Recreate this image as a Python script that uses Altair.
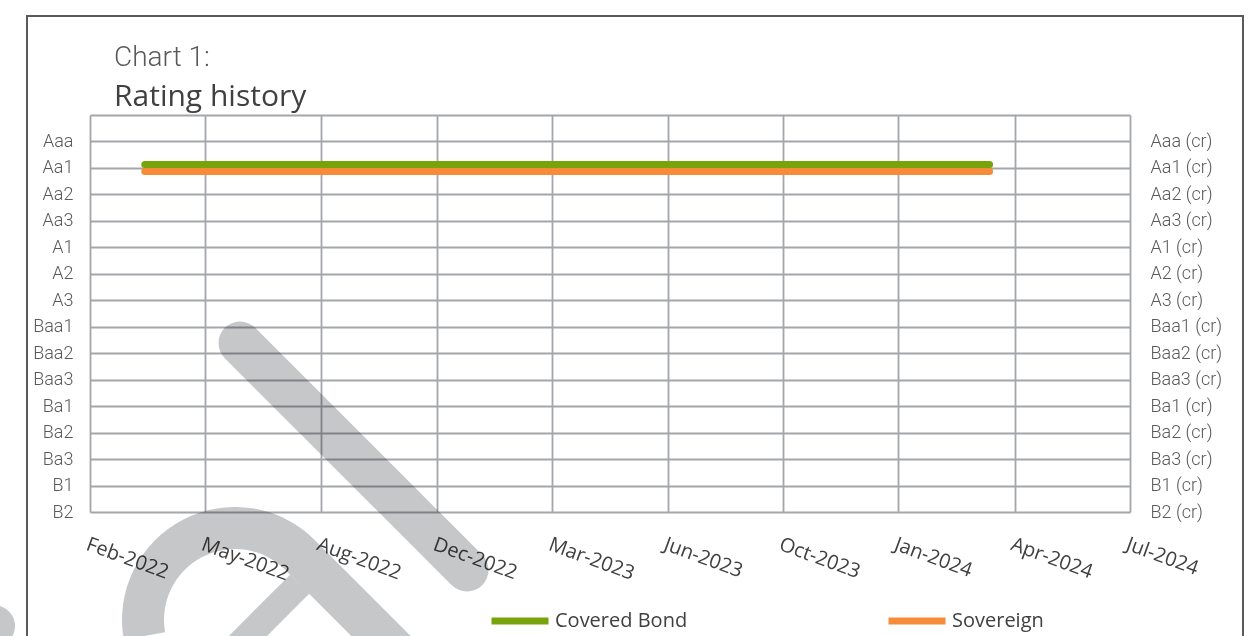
import altair as alt
import pandas as pd

# Rating scale, best at the top
RATINGS = ["Aaa", "Aa1", "Aa2", "Aa3", "A1", "A2", "A3", "Baa1", "Baa2", "Baa3",
           "Ba1", "Ba2", "Ba3", "B1", "B2"]
Y_DOMAIN = [""] + RATINGS

# Date axis tick positions
TICK_DATES = ["2022-02-01", "2022-05-13", "2022-08-22", "2022-12-02", "2023-03-13",
              "2023-06-22", "2023-10-01", "2024-01-10", "2024-04-21", "2024-07-31"]

SERIES = ["Covered Bond", "Sovereign"]
COLORS = ["#78a30a", "#f68b3a"]

COVERED_DATES = ["2022-03-21", "2024-03-30"]
COVERED_RATINGS = ["Aa1", "Aa1"]
SOVEREIGN_DATES = ["2022-03-21", "2024-03-30"]
SOVEREIGN_RATINGS = ["Aa1", "Aa1"]

covered = pd.DataFrame({"date": COVERED_DATES, "rating": COVERED_RATINGS,
                        "series": SERIES[0]})
sovereign = pd.DataFrame({"date": SOVEREIGN_DATES, "rating": SOVEREIGN_RATINGS,
                          "series": SERIES[1]})

tick_ms = [int(pd.Timestamp(d, tz="UTC").value // 10**6) for d in TICK_DATES]

GRID = "#a3a6aa"
LABEL_GREY = "#595959"
TEXT_DARK = "#404040"

x_enc = alt.X(
    "date:T",
    scale=alt.Scale(type="utc", domain=[tick_ms[0], tick_ms[-1]]),
    axis=alt.Axis(
        values=tick_ms,
        labelExpr="utcFormat(datum.value, '%b-%Y')",
        title=None, grid=True, gridColor=GRID, gridWidth=1.8,
        ticks=False, domain=False,
        labelAngle=20, labelAlign="left", labelBaseline="top",
        labelPadding=22, labelFont="Open Sans", labelFontSize=20,
        labelColor=TEXT_DARK, labelOverlap=False, labelFlush=False,
    ),
)

y_scale = alt.Scale(type="point", domain=Y_DOMAIN, padding=0)

left_axis = alt.Axis(
    title=None, grid=True, gridColor=GRID, gridWidth=1.8,
    ticks=False, domain=False, labelPadding=17,
    labelFont="Roboto", labelFontSize=18, labelFontWeight=300,
    labelColor=LABEL_GREY,
)
right_axis = alt.Axis(
    orient="right", title=None, grid=False,
    ticks=False, domain=False, labelPadding=20,
    labelExpr="datum.value == '' ? '' : datum.value + ' (cr)'",
    labelFont="Roboto", labelFontSize=18, labelFontWeight=300,
    labelColor=LABEL_GREY,
)

color = alt.Color(
    "series:N",
    scale=alt.Scale(domain=SERIES, range=COLORS),
    legend=alt.Legend(
        title=None, orient="none", legendX=398, legendY=474,
        direction="horizontal", columns=2, columnPadding=186,
        symbolType="stroke", symbolSize=3249, symbolStrokeWidth=7,
        labelFont="Open Sans", labelFontSize=20, labelColor=TEXT_DARK,
        labelOffset=3, padding=0,
    ),
)

covered_line = alt.Chart(covered).mark_line(
    strokeWidth=7, strokeCap="round", yOffset=-3.5
).encode(x=x_enc, y=alt.Y("rating:N", scale=y_scale, axis=left_axis), color=color)

sovereign_line = alt.Chart(sovereign).mark_line(
    strokeWidth=7, strokeCap="round", yOffset=3.5
).encode(x=x_enc, y=alt.Y("rating:N", scale=y_scale, axis=right_axis), color=color)

# Decoration: outer frame and the grey watermark strokes
one = pd.DataFrame({"k": [0]})
WM = "#c6c7c9"

frame = alt.Chart(one).mark_rect(filled=False, stroke="#5a5a5a", strokeWidth=2).encode(
    x=alt.value(-63), x2=alt.value(1153), y=alt.value(-99), y2=alt.value(560)
)

wm_bar = alt.Chart(one).mark_rule(
    color=WM, strokeWidth=43, strokeCap="round", blend="multiply"
).encode(x=alt.value(150), y=alt.value(228), x2=alt.value(377), y2=alt.value(455))

wm_arc = alt.Chart(one).mark_arc(color=WM, blend="multiply").encode(
    x=alt.value(145), y=alt.value(505),
    theta=alt.value(4.538), theta2=alt.value(7.069),
    radius=alt.value(113), radius2=alt.value(71),
)

wm_leg = alt.Chart(one).mark_rule(
    color=WM, strokeWidth=42, strokeCap="butt", blend="multiply"
).encode(x=alt.value(210), y=alt.value(440), x2=alt.value(320), y2=alt.value(550))

wm_cross = alt.Chart(one).mark_rule(
    color=WM, strokeWidth=27, strokeCap="butt", blend="multiply"
).encode(x=alt.value(209.6), y=alt.value(469.3), x2=alt.value(140), y2=alt.value(539))

wm_corner = alt.Chart(one).mark_rule(
    color=WM, strokeWidth=42, strokeCap="round", blend="multiply"
).encode(x=alt.value(-96), y=alt.value(511), x2=alt.value(-130), y2=alt.value(555))

chart = alt.layer(
    covered_line, sovereign_line, wm_bar, wm_arc, wm_leg, wm_cross, wm_corner, frame
).resolve_scale(
    y="independent"
).properties(
    width=1040, height=397,
    autosize=alt.AutoSizeParams(type="none"),
    padding={"left": 90, "top": 115, "right": 127, "bottom": 124},
    background="white",
    title=alt.TitleParams(
        text="Chart 1:", subtitle="Rating history",
        anchor="start", frame="group", dx=24, offset=-97,
        font="Roboto", fontSize=28, fontWeight=300, color=LABEL_GREY,
        subtitleFont="Open Sans", subtitleFontSize=30, subtitleColor=TEXT_DARK,
        subtitlePadding=10,
    ),
).configure_view(strokeWidth=0)

chart.save("out.html", embed_options={"renderer": "svg", "actions": False})
